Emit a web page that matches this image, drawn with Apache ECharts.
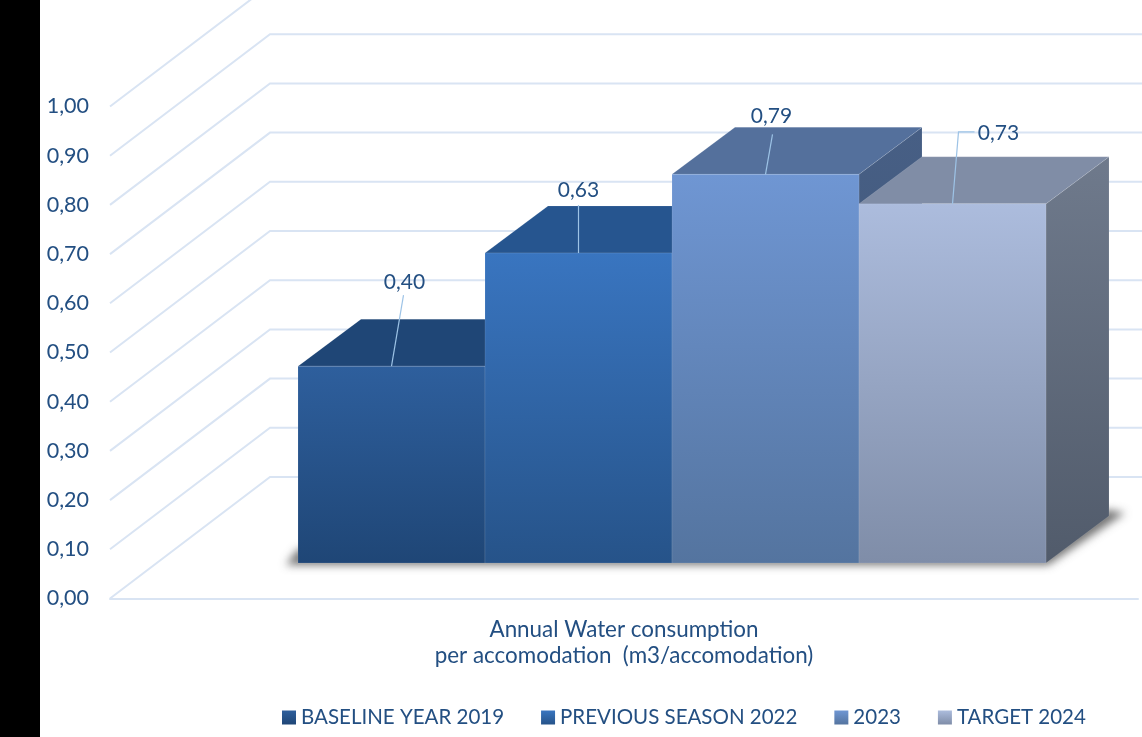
<!DOCTYPE html>
<html>
<head>
<meta charset="utf-8">
<style>
  html, body { margin: 0; padding: 0; background: #fff; }
  #chart { width: 1142px; height: 737px; }
</style>
<script src="https://cdn.jsdelivr.net/npm/echarts@6/dist/echarts.min.js"></script>
</head>
<body>
<div id="chart"></div>
<script>
// Chart values
const categories = ['Annual Water consumption\nper accomodation  (m3/accomodation)'];
const seriesNames = ['BASELINE YEAR 2019', 'PREVIOUS SEASON 2022', '2023', 'TARGET 2024'];
const consumption2019 = [0.40];
const consumption2022 = [0.63];
const consumption2023 = [0.79];
const consumption2024 = [0.73];
const yTicks = [0, 0.1, 0.2, 0.3, 0.4, 0.5, 0.6, 0.7, 0.8, 0.9, 1.0];

// Oblique projection of the 3D box: wall depth, where the bars stand on the floor, bar depth
const WALL = { x: 160, y: 121.5 };
const FRONT = { x: 48, y: 35.5 };
const DEPTH = { x: 63, y: 47 };
const BAR_WIDTH = 187;

const TEXT = '#234f82';
const GRID = '#d9e4f3';
const LEADER = '#9dc3e6';
const FONT = 'Lato';

const vgrad = (a, b) => ({
  type: 'linear', x: 0, y: 0, x2: 0, y2: 1,
  colorStops: [{ offset: 0, color: a }, { offset: 1, color: b }]
});

const barStyles = [
  { front: vgrad('#2e5f9d', '#1f4676'), top: '#1f4676', side: vgrad('#1f4676', '#173558') },
  { front: vgrad('#3975c0', '#265389'), top: '#26558f', side: vgrad('#26558f', '#1c3f6a') },
  { front: vgrad('#6f96d3', '#54749f'), top: '#54709c', side: vgrad('#475f85', '#3f5473') },
  { front: vgrad('#acbcdd', '#7f8da8'), top: '#808da6', side: vgrad('#6f7a8c', '#515b6b') }
];

// Value label placement relative to the top centre of each bar's front face
const leaders = [
  { label: [13, -84], path: [[0, 0], [12, -71]] },
  { label: [0, -63], path: [[0, 0], [0, -48]] },
  { label: [6, -58], path: [[0, 0], [7, -40]] },
  { label: [46, -71], path: [[0, 0], [6, -72], [22, -72]] }
];

const fmt = v => v.toFixed(2).replace('.', ',');

function barLeft(api, i) {
  return api.coord([0, 0])[0] + FRONT.x + (i - seriesNames.length / 2) * BAR_WIDTH;
}

function renderWalls(params, api) {
  const v = api.value(1);
  const p = api.coord([0, v]);
  const cs = params.coordSys;
  const x0 = cs.x, y0 = p[1];
  const style = { stroke: GRID, lineWidth: 2, fill: null };
  const points = [[x0, y0], [x0 + WALL.x, y0 - WALL.y], [x0 + WALL.x + cs.width, y0 - WALL.y]];
  return { type: 'polyline', silent: true, shape: { points }, style };
}

// Soft floor shadow: the shape sits off the canvas so only its blurred shadow lands on the floor
function renderShadow(params, api) {
  const x0 = barLeft(api, 0);
  const x1 = barLeft(api, seriesNames.length);
  const y0 = api.coord([0, 0])[1] - FRONT.y;
  const shift = 3000;
  const pts = [
    [x0 - 12, y0 + 2], [x1 + 2, y0 + 2],
    [x1 + DEPTH.x + 16, y0 - DEPTH.y - 3], [x1 + DEPTH.x, y0 - DEPTH.y - 6],
    [x0, y0 - 14]
  ];
  return {
    type: 'polygon',
    silent: true,
    shape: { points: pts.map(q => [q[0] - shift, q[1]]) },
    style: {
      fill: '#000',
      shadowBlur: 8,
      shadowColor: 'rgba(60,60,60,0.7)',
      shadowOffsetX: shift
    }
  };
}

function barRenderer(i) {
  return function (params, api) {
    const value = api.value(1);
    const x0 = barLeft(api, i);
    const x1 = x0 + BAR_WIDTH;
    const yb = api.coord([0, 0])[1] - FRONT.y;
    const yt = api.coord([0, value])[1] - FRONT.y;
    const s = barStyles[i];
    const edge = 'rgba(255,255,255,0.1)';
    const cx = x0 + BAR_WIDTH / 2;
    const lead = leaders[i];
    return {
      type: 'group',
      silent: true,
      children: [
        {
          type: 'polygon',
          shape: { points: [[x1, yt], [x1 + DEPTH.x, yt - DEPTH.y], [x1 + DEPTH.x, yb - DEPTH.y], [x1, yb]] },
          style: { fill: s.side, stroke: edge, lineWidth: 1 }
        },
        {
          type: 'polygon',
          shape: { points: [[x0, yt], [x0 + DEPTH.x, yt - DEPTH.y], [x1 + DEPTH.x, yt - DEPTH.y], [x1, yt]] },
          style: { fill: s.top, stroke: edge, lineWidth: 1 }
        },
        {
          type: 'rect',
          shape: { x: x0, y: yt, width: BAR_WIDTH, height: yb - yt },
          style: { fill: s.front, stroke: edge, lineWidth: 1 }
        },
        {
          type: 'polyline',
          shape: { points: lead.path.map(q => [cx + q[0], yt + q[1]]) },
          style: { stroke: LEADER, lineWidth: 1.2, fill: null }
        },
        {
          type: 'text',
          x: cx + lead.label[0],
          y: yt + lead.label[1],
          style: {
            text: fmt(value),
            fill: TEXT,
            font: '21px ' + FONT,
            align: 'center',
            verticalAlign: 'middle'
          }
        }
      ]
    };
  };
}

const barValues = [consumption2019, consumption2022, consumption2023, consumption2024];

const option = {
  animation: false,
  backgroundColor: '#fff',
  graphic: [{
    type: 'rect', left: 0, top: 0, z: 100,
    shape: { width: 40, height: 737 },
    style: { fill: '#000' }
  }],
  grid: { left: 110, top: 106.5, width: 1028, height: 492, containLabel: false },
  legend: {
    data: seriesNames,
    left: 277,
    top: 702,
    icon: 'rect',
    itemWidth: 14,
    itemHeight: 14,
    itemGap: 37,
    selectedMode: false,
    textStyle: { color: TEXT, fontFamily: FONT, fontSize: 20.5 }
  },
  tooltip: { show: false },
  xAxis: {
    type: 'category',
    data: categories,
    axisTick: { show: false },
    axisLine: { show: true, lineStyle: { color: GRID, width: 2 } },
    axisLabel: { color: TEXT, fontFamily: FONT, fontSize: 22.4, lineHeight: 26, margin: 18 }
  },
  yAxis: {
    type: 'value',
    min: 0,
    max: 1,
    interval: 0.1,
    axisLine: { show: false },
    axisTick: { show: false },
    splitLine: { show: false },
    axisLabel: { color: TEXT, fontFamily: FONT, fontSize: 21.5, margin: 21, padding: [2, 0, 0, 0], formatter: fmt }
  },
  series: [
    {
      type: 'custom',
      name: 'walls',
      silent: true,
      clip: false,
      renderItem: renderWalls,
      data: yTicks.map(v => [0, v])
    },
    {
      type: 'custom',
      name: 'floor shadow',
      silent: true,
      clip: false,
      renderItem: renderShadow,
      data: [[0, 0]]
    }
  ].concat(seriesNames.map((name, i) => ({
    type: 'custom',
    name,
    silent: true,
    clip: false,
    itemStyle: { color: barStyles[i].front },
    renderItem: barRenderer(i),
    data: barValues[i].map(v => [0, v])
  })))
};

echarts.init(document.getElementById('chart')).setOption(option);
</script>
</body>
</html>
